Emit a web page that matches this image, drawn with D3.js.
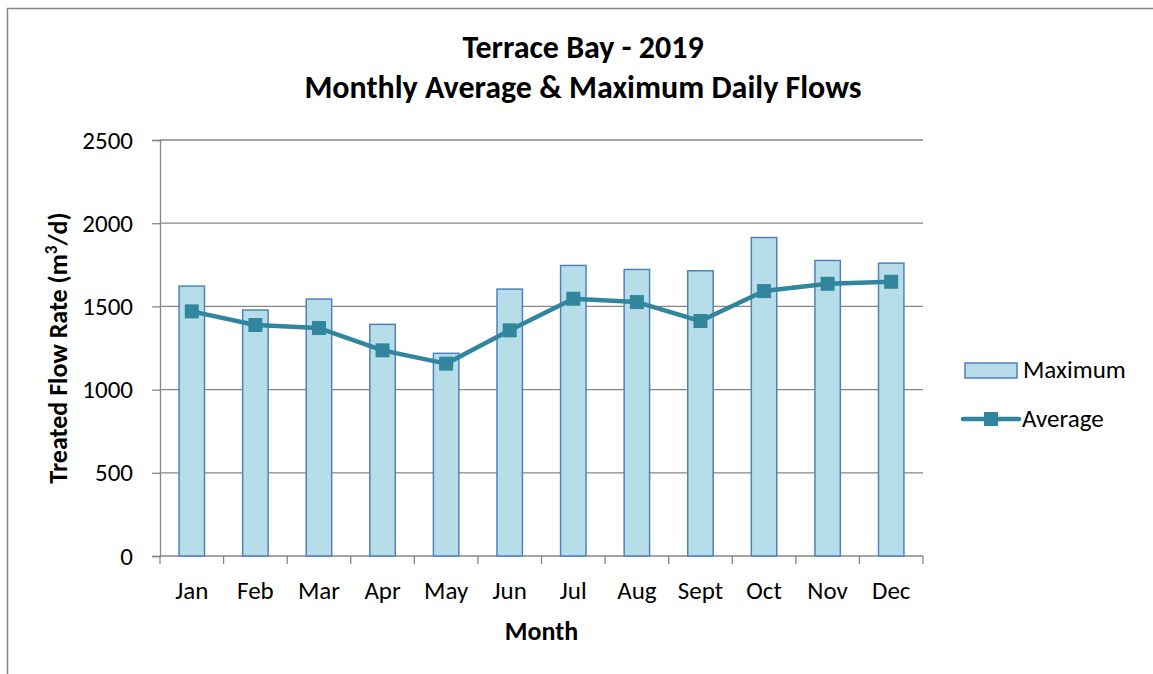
<!DOCTYPE html>
<html>
<head>
<meta charset="utf-8">
<script src="https://cdnjs.cloudflare.com/ajax/libs/d3/7.8.5/d3.min.js"></script>
<style>
  body { margin: 0; background: #fff; }
  text { font-family: Calibri, Carlito, Lato, sans-serif; fill: #000; }
</style>
</head>
<body>
<div id="chart"></div>
<script>
// chart data
var months = ["Jan", "Feb", "Mar", "Apr", "May", "Jun", "Jul", "Aug", "Sept", "Oct", "Nov", "Dec"];
var maximumFlow = [1622, 1478, 1544, 1392, 1218, 1604, 1746, 1722, 1714, 1914, 1776, 1760];
var averageFlow = [1470, 1388, 1370, 1236, 1156, 1356, 1546, 1526, 1412, 1592, 1636, 1648];
var yTicks = [0, 500, 1000, 1500, 2000, 2500];

var svgWidth = 1153;
var svgHeight = 674;

// plot area
var margin = { top: 140, left: 160, right: 230, bottom: 118 };
var chartWidth = svgWidth - margin.left - margin.right;
var chartHeight = svgHeight - margin.top - margin.bottom;

var gridColor = "#868686";
var lineColor = "#31859C";
var barFill = "#B7DEE8";
var barStroke = "#4F81BD";
var fontStack = "Calibri, Carlito, Lato, sans-serif";

var svg = d3.select("#chart")
  .append("svg")
  .attr("width", svgWidth)
  .attr("height", svgHeight);

// outer chart border (only top and left show inside the window)
svg.append("rect")
  .attr("x", 7.5)
  .attr("y", 8.5)
  .attr("width", svgWidth + 20)
  .attr("height", svgHeight + 20)
  .attr("fill", "none")
  .attr("stroke", gridColor)
  .attr("stroke-width", 1.5);

var chartGroup = svg.append("g")
  .attr("transform", `translate(${margin.left}, ${margin.top})`);

var xScale = d3.scaleBand()
  .domain(months)
  .range([0, chartWidth]);

var yScale = d3.scaleLinear()
  .domain([0, 2500])
  .range([chartHeight, 0]);

// horizontal gridlines
chartGroup.selectAll(".grid")
  .data(yTicks.filter(d => d > 0))
  .enter()
  .append("line")
  .attr("x1", 0)
  .attr("x2", chartWidth)
  .attr("y1", d => yScale(d))
  .attr("y2", d => yScale(d))
  .attr("stroke", gridColor)
  .attr("stroke-width", 1.3);

// y axis
var leftAxis = d3.axisLeft(yScale)
  .tickValues(yTicks)
  .tickFormat(d3.format("d"))
  .tickSize(8)
  .tickPadding(19);

var yAxis = chartGroup.append("g").call(leftAxis);
yAxis.select(".domain").attr("stroke", gridColor).attr("stroke-width", 1.3);
yAxis.selectAll(".tick line").attr("stroke", gridColor).attr("stroke-width", 1.3);
yAxis.selectAll("text")
  .attr("font-size", "25px")
  .attr("fill", "#000")
  .style("font-family", fontStack);

// x axis: ticks between categories
var xAxis = chartGroup.append("g")
  .attr("transform", `translate(0, ${chartHeight})`);

xAxis.append("line")
  .attr("x1", 0)
  .attr("x2", chartWidth)
  .attr("stroke", gridColor)
  .attr("stroke-width", 1.3);

var boundaries = months.map(m => xScale(m)).concat([chartWidth]);
xAxis.selectAll(".xtick")
  .data(boundaries)
  .enter()
  .append("line")
  .attr("x1", d => d)
  .attr("x2", d => d)
  .attr("y1", 0)
  .attr("y2", 8)
  .attr("stroke", gridColor)
  .attr("stroke-width", 1.3);

xAxis.selectAll(".xlabel")
  .data(months)
  .enter()
  .append("text")
  .attr("x", d => xScale(d) + xScale.bandwidth() / 2)
  .attr("y", 43)
  .attr("text-anchor", "middle")
  .attr("font-size", "25px")
  .text(d => d);

// bars for maximum
var barWidth = xScale.bandwidth() * 0.4;
chartGroup.selectAll(".bar")
  .data(maximumFlow)
  .enter()
  .append("rect")
  .attr("x", (d, i) => xScale(months[i]) + (xScale.bandwidth() - barWidth) / 2)
  .attr("y", d => yScale(d))
  .attr("width", barWidth)
  .attr("height", d => chartHeight - yScale(d))
  .attr("fill", barFill)
  .attr("stroke", barStroke)
  .attr("stroke-width", 1.5);

// average line
var line = d3.line()
  .x((d, i) => xScale(months[i]) + xScale.bandwidth() / 2)
  .y(d => yScale(d));

chartGroup.append("path")
  .datum(averageFlow)
  .attr("d", line)
  .attr("fill", "none")
  .attr("stroke", lineColor)
  .attr("stroke-width", 4.5)
  .attr("stroke-linejoin", "round");

var markerSize = 14;
chartGroup.selectAll(".marker")
  .data(averageFlow)
  .enter()
  .append("rect")
  .attr("x", (d, i) => xScale(months[i]) + xScale.bandwidth() / 2 - markerSize / 2)
  .attr("y", d => yScale(d) - markerSize / 2)
  .attr("width", markerSize)
  .attr("height", markerSize)
  .attr("fill", lineColor);

// titles
var title = svg.append("text")
  .attr("x", 583)
  .attr("text-anchor", "middle")
  .attr("font-size", "32px")
  .attr("font-weight", "bold");
title.append("tspan").attr("x", 583).attr("y", 58).text("Terrace Bay - 2019");
title.append("tspan").attr("x", 583).attr("y", 98).text("Monthly Average & Maximum Daily Flows");

svg.append("text")
  .attr("x", margin.left + chartWidth / 2)
  .attr("y", 640)
  .attr("text-anchor", "middle")
  .attr("font-size", "26px")
  .attr("font-weight", "bold")
  .text("Month");

var yTitle = svg.append("text")
  .attr("transform", `translate(67, ${margin.top + chartHeight / 2}) rotate(-90)`)
  .attr("text-anchor", "middle")
  .attr("font-size", "26px")
  .attr("font-weight", "bold");
yTitle.append("tspan").text("Treated Flow Rate (m");
yTitle.append("tspan").attr("font-size", "17px").attr("dy", -10).text("3");
yTitle.append("tspan").attr("dy", 10).text("/d)");

// legend
var legend = svg.append("g");
legend.append("rect")
  .attr("x", 965)
  .attr("y", 363)
  .attr("width", 52)
  .attr("height", 15)
  .attr("fill", barFill)
  .attr("stroke", barStroke)
  .attr("stroke-width", 1.5);
legend.append("text")
  .attr("x", 1023)
  .attr("y", 378)
  .attr("font-size", "25px")
  .text("Maximum");

legend.append("line")
  .attr("x1", 963)
  .attr("x2", 1019)
  .attr("y1", 419)
  .attr("y2", 419)
  .attr("stroke", lineColor)
  .attr("stroke-width", 4.5)
  .attr("stroke-linecap", "round");
legend.append("rect")
  .attr("x", 991 - markerSize / 2)
  .attr("y", 419 - markerSize / 2)
  .attr("width", markerSize)
  .attr("height", markerSize)
  .attr("fill", lineColor);
legend.append("text")
  .attr("x", 1022)
  .attr("y", 427)
  .attr("font-size", "25px")
  .text("Average");
</script>
</body>
</html>
